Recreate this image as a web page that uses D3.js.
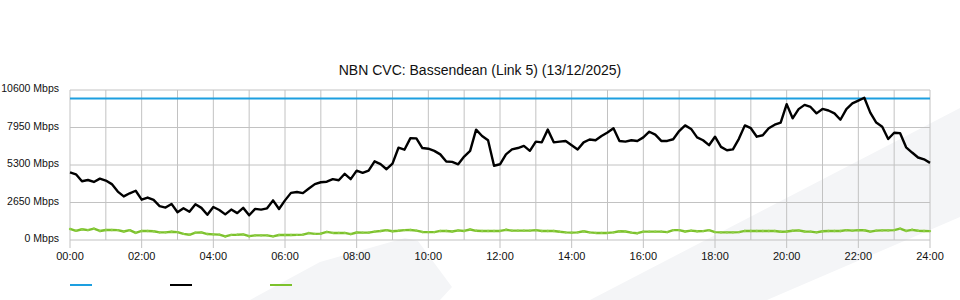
<!DOCTYPE html>
<html>
<head>
<meta charset="utf-8">
<script src="https://cdn.jsdelivr.net/npm/d3@7"></script>
<style>
  body { margin: 0; background: #fff; }
  svg { display: block; font-family: "Liberation Sans", Arial, sans-serif; }
</style>
</head>
<body>
<div id="chart"></div>
<script>
// chart data: 10 minute samples over the day (Mbps)
var capacity = 10000;
var minutes = d3.range(0, 1441, 10);
var traffic = [
  4780, 4640, 4150, 4240, 4100, 4340, 4200, 3950, 3420, 3080, 3300, 3480, 2850, 3000, 2830, 2400, 2290, 2550, 1960, 2250, 2000, 2520, 2270, 1780, 2330,
  2120, 1810, 2150, 1900, 2270, 1750, 2200, 2150, 2240, 2800, 2190, 2800, 3330, 3390, 3310, 3640, 3950, 4080, 4120, 4300, 4220, 4680, 4300, 4900,
  4750, 4900, 5560, 5360, 5000, 5400, 6520, 6380, 7200, 7180, 6500, 6450, 6300, 6050, 5550, 5520, 5350, 5900, 6300, 7800, 7350, 7050, 5250, 5350,
  6050, 6400, 6500, 6650, 6300, 6950, 6900, 7800, 6900, 6950, 7000, 6700, 6400, 6900, 7100, 7050, 7350, 7600, 7900, 7000, 6950, 7050, 7000, 7250,
  7650, 7450, 7000, 7000, 7120, 7700, 8100, 7850, 7250, 7050, 6700, 7300, 6580, 6340, 6400, 7150, 8100, 7900, 7300, 7400, 7900, 8150, 8300, 9600,
  8600, 9250, 9550, 9400, 8950, 9260, 9150, 8950, 8500, 9250, 9650, 9850, 10050, 9000, 8300, 8000, 7140, 7580, 7550, 6550, 6180, 5830, 5700, 5450
];
var upload = [
  780, 650, 760, 700, 800, 640, 710, 710, 700, 600, 700, 500, 640, 640, 620, 540, 540, 580, 560, 430, 370, 520, 540, 420, 400,
  380, 250, 360, 370, 400, 270, 330, 330, 330, 260, 350, 350, 350, 360, 380, 490, 430, 450, 570, 500, 500, 500, 420, 530,
  520, 520, 590, 640, 700, 620, 650, 700, 710, 660, 570, 560, 560, 640, 640, 600, 680, 640, 740, 650, 640, 640, 640, 640,
  720, 660, 660, 660, 660, 700, 640, 640, 640, 580, 540, 520, 540, 620, 540, 500, 500, 500, 540, 620, 600, 520, 480, 590,
  590, 590, 590, 560, 700, 700, 600, 660, 620, 630, 700, 560, 540, 540, 540, 560, 640, 640, 640, 640, 640, 640, 580, 600,
  650, 680, 600, 590, 540, 620, 640, 640, 640, 700, 660, 700, 690, 590, 660, 680, 680, 700, 800, 640, 720, 650, 640, 630
];
var yTicks = [0, 2650, 5300, 7950, 10600];
var xLabels = ["00:00", "02:00", "04:00", "06:00", "08:00", "10:00", "12:00", "14:00", "16:00", "18:00", "20:00", "22:00", "24:00"];
var title = "NBN CVC: Bassendean (Link 5) (13/12/2025)";
var colors = {capacity: "#1d9fe0", traffic: "#000000", upload: "#7cc12c"};

var margin = {top: 90, right: 30, bottom: 60, left: 70},
  width = 960 - margin.left - margin.right,
  height = 300 - margin.top - margin.bottom;

var root = d3.select("#chart")
  .append("svg")
    .attr("width", 960)
    .attr("height", 300);

// faint background shapes
root.append("path")
  .attr("d", "M250,300 L320,262 L405,238 L418,241 L452,287 L440,300 Z")
  .attr("fill", "#f4f5f7");
root.append("path")
  .attr("d", "M590,300 L960,108 L960,217 L767,300 Z")
  .attr("fill", "#f4f5f7");

root.append("text")
  .attr("x", 480).attr("y", 75)
  .attr("text-anchor", "middle")
  .style("font-size", "14px")
  .attr("fill", "#111")
  .text(title);

var svg = root.append("g")
  .attr("transform", "translate(" + margin.left + "," + margin.top + ")");

var x = d3.scaleLinear().domain([0, 1440]).range([0, width]);
var y = d3.scaleLinear().domain([0, 10600]).range([height, 0]);

// grid
svg.selectAll(".vgrid")
  .data(d3.range(0, 1441, 60))
  .enter().append("line")
    .attr("x1", d => x(d)).attr("x2", d => x(d))
    .attr("y1", 0)
    .attr("y2", (d, i) => i % 2 === 0 ? height + 8 : height)
    .attr("stroke", "#c2c2c2")
    .attr("stroke-width", 1);
svg.selectAll(".hgrid")
  .data(yTicks)
  .enter().append("line")
    .attr("x1", 0).attr("x2", width)
    .attr("y1", d => y(d)).attr("y2", d => y(d))
    .attr("stroke", "#c2c2c2")
    .attr("stroke-width", 1);

// axis labels
svg.selectAll(".ylab")
  .data(yTicks)
  .enter().append("text")
    .attr("x", -11)
    .attr("y", d => y(d) + 2.2)
    .attr("text-anchor", "end")
    .style("font-size", "10.5px")
    .attr("fill", "#111")
    .text(d => d + " Mbps");
svg.selectAll(".xlab")
  .data(xLabels)
  .enter().append("text")
    .attr("x", (d, i) => x(i * 120))
    .attr("y", height + 20)
    .attr("text-anchor", "middle")
    .style("font-size", "11px")
    .attr("fill", "#111")
    .text(d => d);

// series
var line = d3.line()
  .x(d => x(d[0]))
  .y(d => y(d[1]));

svg.append("path")
  .datum([[0, capacity], [1440, capacity]])
  .attr("fill", "none")
  .attr("stroke", colors.capacity)
  .attr("stroke-width", 2)
  .attr("d", line);

var up = minutes.map((m, i) => [m, upload[i]]);
svg.append("path")
  .datum(up)
  .attr("fill", "none")
  .attr("stroke", colors.upload)
  .attr("stroke-width", 2.4)
  .attr("stroke-linejoin", "round")
  .attr("d", line);
svg.selectAll(".upmark")
  .data(up)
  .enter().append("circle")
    .attr("cx", d => x(d[0]))
    .attr("cy", d => y(d[1]))
    .attr("r", 1.2)
    .attr("fill", "#8fcf48");

svg.append("path")
  .datum(minutes.map((m, i) => [m, traffic[i]]))
  .attr("fill", "none")
  .attr("stroke", colors.traffic)
  .attr("stroke-width", 2.4)
  .attr("stroke-linejoin", "round")
  .attr("d", line);

// legend swatches (no labels shown)
[colors.capacity, colors.traffic, colors.upload].forEach(function(c, i) {
  root.append("line")
    .attr("x1", 70 + i * 100).attr("x2", 92 + i * 100)
    .attr("y1", 285).attr("y2", 285)
    .attr("stroke", c)
    .attr("stroke-width", 2);
});
</script>
</body>
</html>
